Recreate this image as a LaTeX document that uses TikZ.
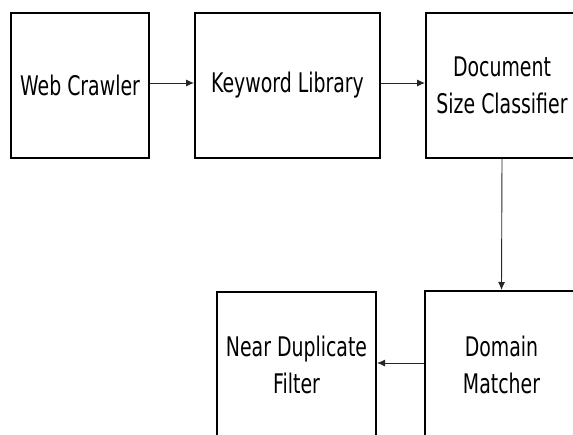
\documentclass[tikz,border=0pt]{standalone}
\usepackage{fontspec}
\setmainfont{DejaVu Sans}[FakeStretch=0.7]
\usetikzlibrary{arrows.meta}
\begin{document}
\begin{tikzpicture}[x=1pt,y=-1pt,
  blk/.style={draw=black,line width=2pt,inner sep=0pt,align=center,
    font=\fontsize{27}{37}\selectfont,text=black},
  conn/.style={line width=0.9pt,draw=black!85,-{Latex[length=8pt,width=7pt]}}]
\useasboundingbox (0,0) rectangle (573,434);
\clip (0,0) rectangle (573,434);
\node[blk,minimum width=138pt,minimum height=145pt] (wc) at (80,85) {Web Crawler};
\node[blk,minimum width=185pt,minimum height=145pt] (kl) at (287.5,85) {Keyword Library};
\node[blk,minimum width=152pt,minimum height=145pt] (dsc) at (502,85) {Document\\Size Classifier};
\node[blk,minimum width=153pt,minimum height=148pt] (dm) at (501.5,365) {Domain\\Matcher};
\node[blk,minimum width=159pt,minimum height=146pt] (ndf) at (296.5,365) {Near Duplicate\\Filter};
\draw[conn] ([yshift=2pt]wc.east) -- ([yshift=2pt]kl.west);
\draw[conn] ([yshift=2pt]kl.east) -- ([yshift=2pt]dsc.west);
\draw[conn] (dsc.south) -- (dm.north);
\draw[conn] ([yshift=2pt]dm.west) -- ([yshift=2pt]ndf.east);
\end{tikzpicture}
\end{document}
